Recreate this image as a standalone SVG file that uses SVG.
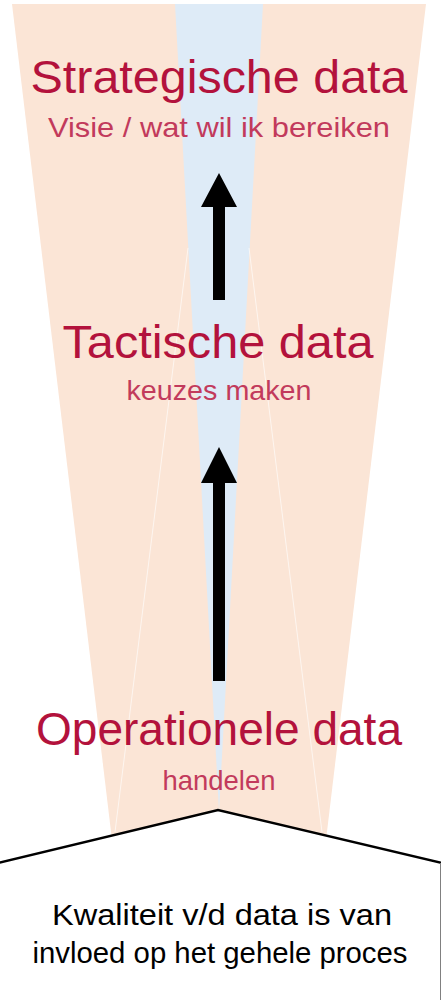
<svg xmlns="http://www.w3.org/2000/svg" width="441" height="1000" viewBox="0 0 441 1000">
<style>
.t{font-family:"Liberation Sans",Arial,sans-serif;fill:#b3123c;text-anchor:middle}
.h{font-size:46px}
.s{font-size:28px;fill:#c23a5c}
.b{font-family:"Liberation Sans",Arial,sans-serif;font-size:29px;fill:#000;text-anchor:middle}
.seam{stroke:#ffffff;stroke-width:0.8;stroke-opacity:0.8;fill:none}
</style>
<rect width="441" height="1000" fill="#ffffff"/>
<g id="funnel">
<polygon points="12,4 426,4 326,840 112,840" fill="#fbe5d6"/>
<polygon points="175,4 263,4 219,811" fill="#deebf7"/>
<line class="seam" x1="188" y1="248" x2="115" y2="832"/>
<line class="seam" x1="249" y1="248" x2="322" y2="832"/>
</g>
<g id="connectors">
<polygon id="arrow1" points="219,173 237,207 225,207 225,300 213,300 213,207 201,207" fill="#000"/>
<polygon id="arrow2" points="219,447 237,483 225,483 225,681 213,681 213,483 201,483" fill="#000"/>
</g>
<g id="strategisch">
<text class="t h" x="219" y="93" textLength="377" lengthAdjust="spacingAndGlyphs">Strategische data</text>
<text class="t s" x="219" y="137" textLength="342" lengthAdjust="spacingAndGlyphs">Visie / wat wil ik bereiken</text>
</g>
<g id="tactisch">
<text class="t h" x="218" y="358" textLength="311" lengthAdjust="spacingAndGlyphs">Tactische data</text>
<text class="t s" x="219" y="400" textLength="185" lengthAdjust="spacingAndGlyphs">keuzes maken</text>
</g>
<g id="operationeel">
<text class="t h" x="219" y="745" textLength="366" lengthAdjust="spacingAndGlyphs">Operationele data</text>
<text class="t s" x="219" y="790" textLength="113" lengthAdjust="spacingAndGlyphs">handelen</text>
</g>
<g id="kwaliteit">
<polygon points="0,863 218,810 440.5,863 440.5,1002 0,1002" fill="#ffffff" stroke="none"/>
<polyline points="-2,863 218,810 442,863" fill="none" stroke="#000" stroke-width="2.5"/>
<line x1="440.5" y1="863" x2="440.5" y2="1000" stroke="#808080" stroke-width="1"/>
<text class="b" x="222" y="925" textLength="340" lengthAdjust="spacingAndGlyphs">Kwaliteit v/d data is van</text>
<text class="b" x="220" y="963" textLength="375" lengthAdjust="spacingAndGlyphs">invloed op het gehele proces</text>
</g>
</svg>
